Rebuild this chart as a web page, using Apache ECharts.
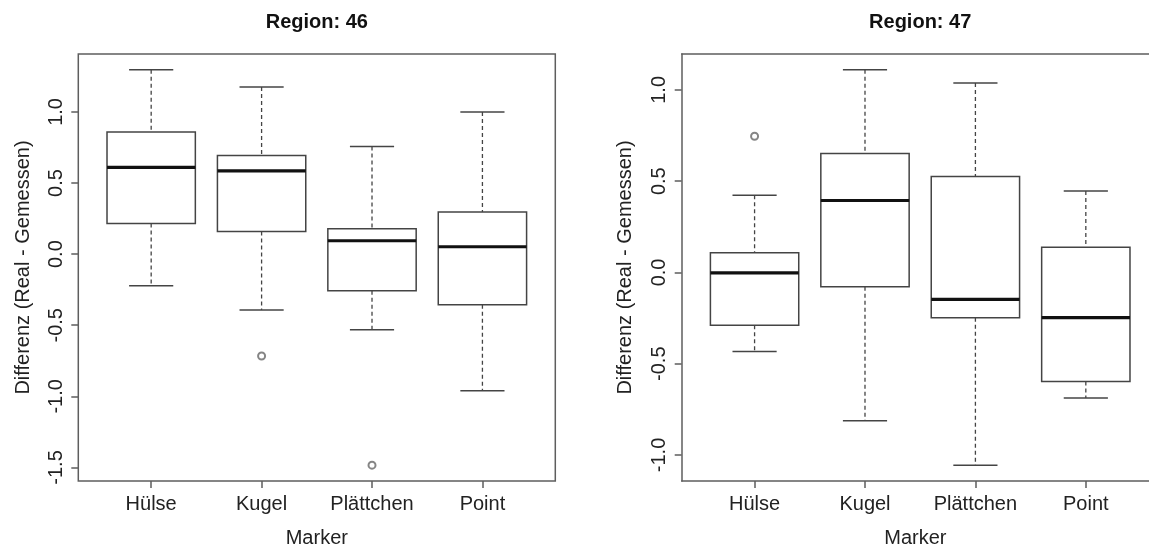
<!DOCTYPE html>
<html>
<head>
<meta charset="utf-8">
<script src="https://cdn.jsdelivr.net/npm/echarts@6/dist/echarts.min.js"></script>
<style>
  html, body { margin: 0; padding: 0; background: #ffffff; }
  #chart { width: 1149px; height: 549px; }
</style>
</head>
<body>
<div id="chart"></div>
<script>
// ---- data ----
const categories = ['Hülse', 'Kugel', 'Plättchen', 'Point'];
const titles = ['Region: 46', 'Region: 47'];
// [lower whisker, Q1, median, Q3, upper whisker]
const region46Stats = [
  [-0.222, 0.215, 0.610, 0.859, 1.296],
  [-0.393, 0.160, 0.585, 0.694, 1.175],
  [-0.531, -0.257, 0.094, 0.178, 0.756],
  [-0.960, -0.356, 0.052, 0.296, 1.000]
];
const region46Outliers = [[2, -0.716], [3, -1.484]];
const region47Stats = [
  [-0.433, -0.290, -0.002, 0.108, 0.423],
  [-0.812, -0.079, 0.394, 0.652, 1.110],
  [-1.056, -0.248, -0.148, 0.525, 1.038],
  [-0.688, -0.598, -0.248, 0.138, 0.446]
];
const region47Outliers = [[1, 0.746]];
const region46Ticks = [-1.5, -1.0, -0.5, 0.0, 0.5, 1.0];
const region47Ticks = [-1.0, -0.5, 0.0, 0.5, 1.0];
const xTicks = [1, 2, 3, 4];

// ---- helpers ----
const FONT = "'Liberation Sans', Arial, sans-serif";
const LINE = '#444444';
const FRAME = '#5e5e5e';

function rExpand(lo, hi) { const d = (hi - lo) * 0.04; return [lo - d, hi + d]; }
function extent(stats, outl) {
  let lo = Infinity, hi = -Infinity;
  stats.forEach(s => { lo = Math.min(lo, s[0]); hi = Math.max(hi, s[4]); });
  outl.forEach(o => { lo = Math.min(lo, o[1]); hi = Math.max(hi, o[1]); });
  return rExpand(lo, hi);
}
const y46 = extent(region46Stats, region46Outliers);
const y47 = extent(region47Stats, region47Outliers);
const xr = rExpand(0.5, 4.5);

function boxData(stats) { return stats.map((s, i) => [i + 1].concat(s)); }

function renderBox(params, api) {
  const x = api.value(0);
  const lo = api.value(1), q1 = api.value(2), med = api.value(3), q3 = api.value(4), hi = api.value(5);
  const bw = 0.4, cw = 0.2;
  const pTL = api.coord([x - bw, q3]);
  const pBR = api.coord([x + bw, q1]);
  const pMedL = api.coord([x - bw, med]);
  const pMedR = api.coord([x + bw, med]);
  const pC = api.coord([x, hi]);
  const pQ3 = api.coord([x, q3]);
  const pQ1 = api.coord([x, q1]);
  const pLo = api.coord([x, lo]);
  const capHiL = api.coord([x - cw, hi]), capHiR = api.coord([x + cw, hi]);
  const capLoL = api.coord([x - cw, lo]), capLoR = api.coord([x + cw, lo]);
  const solid = { stroke: LINE, lineWidth: 1.5, fill: null };
  const dashed = { stroke: LINE, lineWidth: 1.3, lineDash: [4, 3] };
  return {
    type: 'group',
    children: [
      { type: 'line', shape: { x1: pC[0], y1: pC[1], x2: pQ3[0], y2: pQ3[1] }, style: dashed },
      { type: 'line', shape: { x1: pQ1[0], y1: pQ1[1], x2: pLo[0], y2: pLo[1] }, style: dashed },
      { type: 'line', shape: { x1: capHiL[0], y1: capHiL[1], x2: capHiR[0], y2: capHiR[1] }, style: solid },
      { type: 'line', shape: { x1: capLoL[0], y1: capLoL[1], x2: capLoR[0], y2: capLoR[1] }, style: solid },
      { type: 'rect', shape: { x: pTL[0], y: pTL[1], width: pBR[0] - pTL[0], height: pBR[1] - pTL[1] },
        style: { stroke: LINE, lineWidth: 1.5, fill: '#ffffff' } },
      { type: 'line', shape: { x1: pMedL[0], y1: pMedL[1], x2: pMedR[0], y2: pMedR[1] },
        style: { stroke: '#111111', lineWidth: 3.2 } }
    ]
  };
}

const gridTop = 54, gridHeight = 427, gridWidth = 477;
const rightLeft = 681.7;
const rightWidth = 1149 - rightLeft;   // panel runs off the right edge of the picture
const xMax47 = xr[0] + (xr[1] - xr[0]) * rightWidth / gridWidth;

const grids = [
  { left: 78.3, top: gridTop, width: gridWidth, height: gridHeight, show: true, borderColor: FRAME, borderWidth: 1.5,
    outerBoundsMode: 'none', containLabel: false },
  { left: rightLeft, top: gridTop, width: rightWidth, height: gridHeight, show: false,
    outerBoundsMode: 'none', containLabel: false }
];

function xAxisFor(i, max, showLine) {
  return {
    type: 'value', gridIndex: i, min: xr[0], max: max, position: 'bottom',
    name: 'Marker', nameLocation: 'middle', nameGap: 47,
    nameTextStyle: { fontFamily: FONT, fontSize: 20, color: '#222' },
    axisLine: { show: showLine, onZero: false, lineStyle: { color: FRAME, width: 1.5 } },
    splitLine: { show: false },
    axisTick: { show: true, inside: false, length: 7, customValues: xTicks,
      lineStyle: { color: FRAME, width: 1.5 } },
    axisLabel: { customValues: xTicks, margin: 13, fontFamily: FONT, fontSize: 20, color: '#222',
      formatter: v => categories[Math.round(v) - 1] || '' }
  };
}
function topFrameAxis(i, max) {
  return {
    type: 'value', gridIndex: i, min: xr[0], max: max, position: 'top',
    axisLine: { show: true, onZero: false, lineStyle: { color: FRAME, width: 1.5 } },
    axisTick: { show: false }, axisLabel: { show: false }, splitLine: { show: false }
  };
}
function yAxisFor(i, range, ticks, gap, showLine) {
  return {
    type: 'value', gridIndex: i, min: range[0], max: range[1],
    name: 'Differenz (Real - Gemessen)', nameLocation: 'middle', nameGap: gap, nameRotate: 90,
    nameTextStyle: { fontFamily: FONT, fontSize: 20, color: '#222' },
    axisLine: { show: showLine, onZero: false, lineStyle: { color: FRAME, width: 1.5 } },
    splitLine: { show: false },
    axisTick: { show: true, inside: false, length: 7, customValues: ticks,
      lineStyle: { color: FRAME, width: 1.5 } },
    axisLabel: { customValues: ticks, rotate: 90, margin: 12, fontFamily: FONT, fontSize: 20, color: '#222',
      formatter: v => v.toFixed(1) }
  };
}

const chart = echarts.init(document.getElementById('chart'), null, { renderer: 'canvas' });
chart.setOption({
  animation: false,
  backgroundColor: '#ffffff',
  title: [
    { text: titles[0], left: 316.8, top: 22, padding: 0, textAlign: 'center', textVerticalAlign: 'middle',
      textStyle: { fontFamily: FONT, fontSize: 20, fontWeight: 'bold', color: '#111' } },
    { text: titles[1], left: 920.2, top: 22, padding: 0, textAlign: 'center', textVerticalAlign: 'middle',
      textStyle: { fontFamily: FONT, fontSize: 20, fontWeight: 'bold', color: '#111' } }
  ],
  grid: grids,
  xAxis: [xAxisFor(0, xr[1], false), xAxisFor(1, xMax47, true), topFrameAxis(1, xMax47)],
  yAxis: [yAxisFor(0, y46, region46Ticks, 45, false), yAxisFor(1, y47, region47Ticks, 46, true)],
  series: [
    { type: 'custom', xAxisIndex: 0, yAxisIndex: 0, renderItem: renderBox, data: boxData(region46Stats),
      encode: { x: 0, y: [1, 2, 3, 4, 5] }, clip: false },
    { type: 'custom', xAxisIndex: 1, yAxisIndex: 1, renderItem: renderBox, data: boxData(region47Stats),
      encode: { x: 0, y: [1, 2, 3, 4, 5] }, clip: false },
    { type: 'scatter', xAxisIndex: 0, yAxisIndex: 0, data: region46Outliers, symbol: 'emptyCircle', symbolSize: 7,
      itemStyle: { color: '#666', borderColor: '#666', borderWidth: 1.2 }, z: 5 },
    { type: 'scatter', xAxisIndex: 1, yAxisIndex: 1, data: region47Outliers, symbol: 'emptyCircle', symbolSize: 7,
      itemStyle: { color: '#666', borderColor: '#666', borderWidth: 1.2 }, z: 5 }
  ]
});
</script>
</body>
</html>
